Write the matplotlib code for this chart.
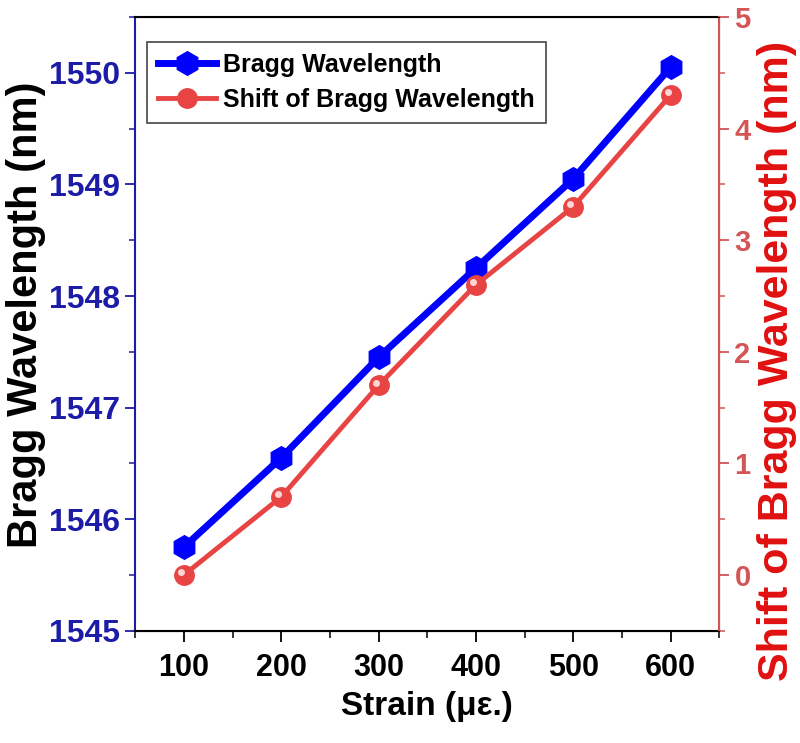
import numpy as np
import matplotlib
matplotlib.use("Agg")
import matplotlib.pyplot as plt
import matplotlib.transforms as mtransforms
from matplotlib.ticker import MultipleLocator

# --- Data ---
strain = [100, 200, 300, 400, 500, 600]
bragg_wl = [1545.75, 1546.55, 1547.45, 1548.25, 1549.05, 1550.05]
shift_wl = [0.0, 0.7, 1.7, 2.6, 3.3, 4.3]

x_ticks = [100, 200, 300, 400, 500, 600]
left_ticks = [1545, 1546, 1547, 1548, 1549, 1550]
right_ticks = [0, 1, 2, 3, 4, 5]

# --- Style ---
BLUE = "#0000FF"
NAVY = "#1C1CA8"
RED = "#E84444"
RED_AXIS = "#D45555"
RED_LABEL = "#E01010"

plt.rcParams["font.family"] = ["Liberation Sans", "DejaVu Sans"]
plt.rcParams["font.weight"] = "bold"

fig = plt.figure(figsize=(8, 7.43), dpi=100)
ax = fig.add_axes([0.169, 0.151, 0.730, 0.826])
ax2 = ax.twinx()

# --- Left axis: Bragg wavelength ---
l1, = ax.plot(strain, bragg_wl, color=BLUE, lw=5, marker="h", ms=17,
              mec=BLUE, mfc=BLUE, label="Bragg Wavelength", zorder=3)
ax.set_xlim(50, 650)
ax.set_ylim(1545, 1550.5)
ax.set_xticks(x_ticks)
ax.xaxis.set_minor_locator(MultipleLocator(50))
ax.set_yticks(left_ticks)
ax.yaxis.set_minor_locator(MultipleLocator(0.5))
ax.set_yticklabels([str(t) for t in left_ticks], color=NAVY, fontsize=23,
                   fontweight="bold")
ax.set_xticklabels([str(t) for t in x_ticks], fontsize=22, fontweight="bold")
ax.tick_params(axis="x", which="major", direction="out", length=8, width=1.3, pad=8)
ax.tick_params(axis="x", which="minor", direction="out", length=5, width=1.1)
ax.tick_params(axis="y", which="major", direction="out", length=7, width=1.3,
               color=NAVY, pad=4)
ax.tick_params(axis="y", which="minor", direction="out", length=4, width=1.1,
               color=NAVY)
ax.spines["left"].set_color(NAVY)
ax.spines["left"].set_linewidth(1.5)
ax.spines["bottom"].set_linewidth(1.5)
ax.spines["top"].set_linewidth(1.5)
ax.set_xlabel("Strain (\u03bc\u03b5.)", fontsize=24, fontweight="bold", labelpad=6)
ax.set_ylabel("Bragg Wavelength (nm)", fontsize=30, fontweight="bold",
              color="black")
ax.yaxis.set_label_coords(-0.152, 0.515)

# --- Right axis: shift of Bragg wavelength ---
l2, = ax2.plot(strain, shift_wl, color=RED, lw=3.5, marker="o", ms=14,
               mec=RED, mfc=RED, label="Shift of Bragg Wavelength", zorder=3)
# small glossy highlight on the red markers
shine = mtransforms.offset_copy(ax2.transData, fig=fig, x=-2, y=2, units="points")
ax2.plot(strain, shift_wl, ls="none", marker="o", ms=5, mfc="#FFD6D6",
         mec="none", transform=shine, zorder=4)
ax2.set_ylim(-0.5, 5)
ax2.set_yticks(right_ticks)
ax2.yaxis.set_minor_locator(MultipleLocator(0.5))
ax2.set_yticklabels([str(t) for t in right_ticks], color=RED_AXIS, fontsize=21,
                    fontweight="bold")
ax2.tick_params(axis="y", which="major", direction="out", length=7, width=1.3,
                color=RED_AXIS, pad=4)
ax2.tick_params(axis="y", which="minor", direction="out", length=4, width=1.1,
                color=RED_AXIS)
ax2.spines["right"].set_color(RED_AXIS)
ax2.spines["right"].set_linewidth(1.5)
ax2.spines["left"].set_visible(False)
ax2.set_ylabel("Shift of Bragg Wavelength (nm)", fontsize=31, fontweight="bold",
               color=RED_LABEL)
ax2.yaxis.set_label_coords(1.064, 0.44)

# --- Legend ---
leg = ax.legend(handles=[l1, l2], loc="upper left", bbox_to_anchor=(0.02, 0.96),
                borderaxespad=0, fancybox=False, edgecolor="#444444",
                framealpha=1, prop={"size": 18, "weight": "bold"},
                handlelength=2.3, handletextpad=0.3, borderpad=0.45,
                labelspacing=0.45)
leg.get_frame().set_linewidth(1.2)

fig.savefig("out.png", dpi=100)
